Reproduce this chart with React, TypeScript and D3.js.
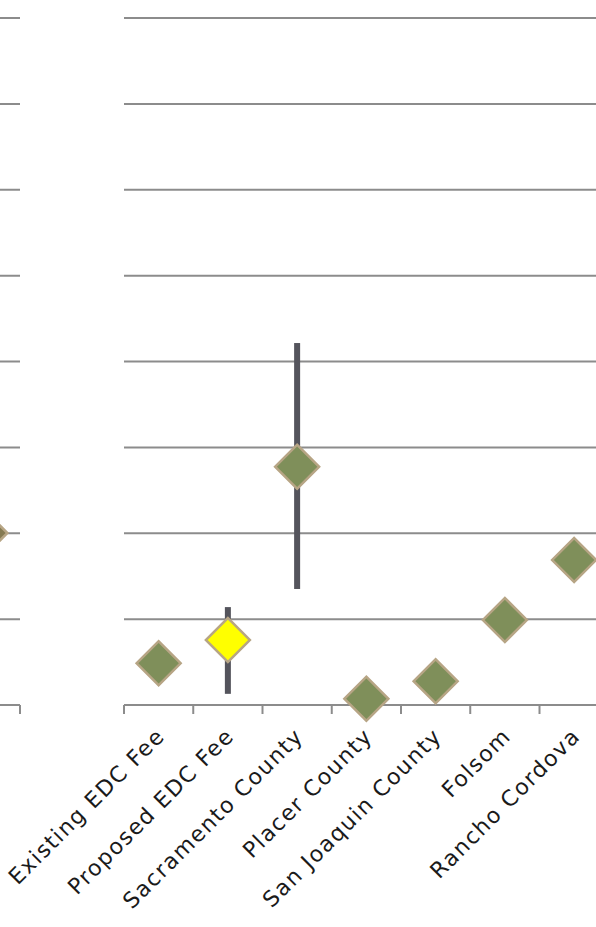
import React from "react";
import * as d3 from "d3";

const categories = [
  "Existing EDC Fee",
  "Proposed EDC Fee",
  "Sacramento County",
  "Placer County",
  "San Joaquin County",
  "Folsom",
  "Rancho Cordova",
];
const values = [485, 757, 2775, 73, 276, 990, 1689];
const errHigh = [null, 1140, 4215, null, null, null, null];
const errLow = [null, 130, 1351, null, null, null, null];
const highlight = [false, true, false, false, false, false, false];

// fragment of the neighbouring chart at the left edge
const leftCategories = ["prev"];
const leftValues = [2003];

const yTicks = [0, 1000, 2000, 3000, 4000, 5000, 6000, 7000, 8000];

const W = 596;
const H = 927;
const BAND = 69.25;

export default function App() {
  const y = d3.scaleLinear().domain([0, 8000]).range([705, 18]);
  const x = d3
    .scaleBand<string>()
    .domain(categories)
    .range([124, 124 + BAND * categories.length])
    .paddingInner(0)
    .paddingOuter(0);
  const xl = d3
    .scaleBand<string>()
    .domain(leftCategories)
    .range([20 - BAND, 20]);

  const diamond = d3.symbol(d3.symbolSquare, 968)() as string;
  const grid = "#8c8c8c";
  const green = "#7f8f5a";
  const stroke = "#b7a585";

  const mainRight = 124 + BAND * categories.length;

  return (
    <svg
      width={W}
      height={H}
      style={{ position: "absolute", left: 0, top: 0, background: "#fff" }}
    >
      {/* left fragment */}
      {yTicks.map((t) =>
        t === 0 ? null : (
          <line key={"lg" + t} x1={20 - BAND} x2={20} y1={y(t)} y2={y(t)} stroke={grid} strokeWidth={2} />
        )
      )}
      <line x1={20 - BAND} x2={20} y1={y(0)} y2={y(0)} stroke={grid} strokeWidth={2} />
      <line x1={20} x2={20} y1={y(0)} y2={y(0) + 9} stroke={grid} strokeWidth={2} />
      {leftCategories.map((c, i) => (
        <path
          key={"ld" + c}
          d={diamond}
          transform={`translate(${(xl(c) as number) + xl.bandwidth() / 2},${y(leftValues[i])}) rotate(45)`}
          fill="#857a52"
          stroke={stroke}
          strokeWidth={2.5}
        />
      ))}

      {/* main gridlines */}
      {yTicks.map((t) =>
        t === 0 ? null : (
          <line key={"g" + t} x1={124} x2={mainRight} y1={y(t)} y2={y(t)} stroke={grid} strokeWidth={2} />
        )
      )}
      <line x1={124} x2={mainRight} y1={y(0)} y2={y(0)} stroke={grid} strokeWidth={2} />
      {categories.map((c) => (
        <line
          key={"t" + c}
          x1={x(c) as number}
          x2={x(c) as number}
          y1={y(0)}
          y2={y(0) + 9}
          stroke={grid}
          strokeWidth={2}
        />
      ))}
      <line x1={mainRight} x2={mainRight} y1={y(0)} y2={y(0) + 9} stroke={grid} strokeWidth={2} />

      {/* error bars */}
      {categories.map((c, i) => {
        const hi = errHigh[i];
        const lo = errLow[i];
        if (hi == null || lo == null) return null;
        const cx = (x(c) as number) + x.bandwidth() / 2;
        return (
          <rect
            key={"e" + c}
            x={cx - 3}
            width={6}
            y={y(hi)}
            height={y(lo) - y(hi)}
            fill="#54545c"
          />
        );
      })}

      {/* diamonds */}
      {categories.map((c, i) => {
        const cx = (x(c) as number) + x.bandwidth() / 2;
        return (
          <path
            key={"d" + c}
            d={diamond}
            transform={`translate(${cx},${y(values[i])}) rotate(45)`}
            fill={highlight[i] ? "#ffff00" : green}
            stroke={stroke}
            strokeWidth={2.5}
          />
        );
      })}

      {/* labels */}
      {categories.map((c) => {
        const cx = (x(c) as number) + x.bandwidth() / 2;
        return (
          <text
            key={"l" + c}
            transform={`translate(${cx + 2},${y(0) + 27}) rotate(-45)`}
            textAnchor="end"
            dy="0.35em"
            fontFamily="'DejaVu Sans', sans-serif"
            fontSize={22}
            letterSpacing={1.5}
            fill="#1a1a1a"
          >
            {c}
          </text>
        );
      })}
    </svg>
  );
}
